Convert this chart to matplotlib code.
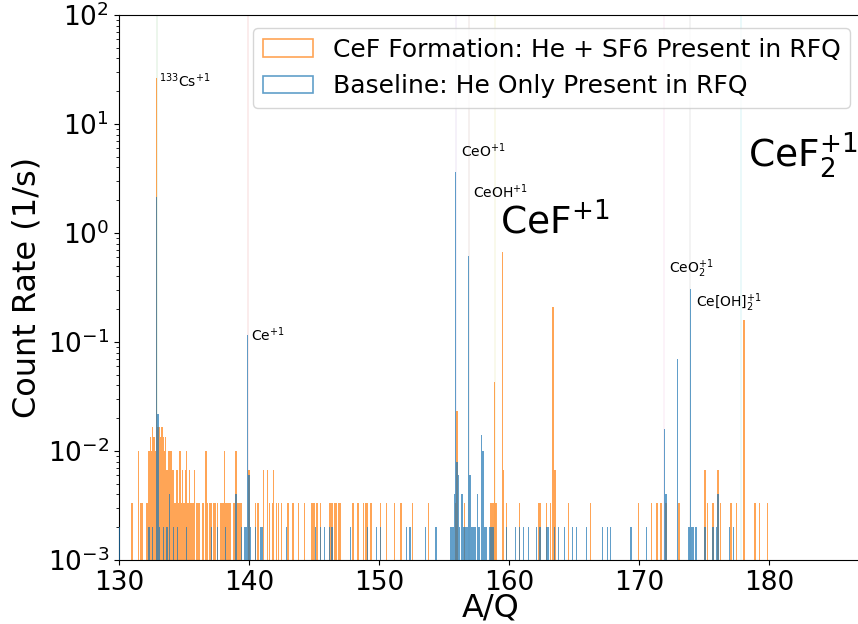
import matplotlib
matplotlib.use("Agg")
import matplotlib.pyplot as plt
from matplotlib.patches import Patch

# ---- data: bin centre (A/Q) and raw counts ----
live_sf6 = 300.0   # s, CeF formation run
live_he = 500.0    # s, baseline run

sf6_mass = [
    131.0, 131.5, 131.7, 131.8, 132.1, 132.2, 132.3, 132.4, 132.5, 132.6,
    132.7, 132.8, 132.9, 133.0, 133.1, 133.2, 133.3, 133.4, 133.5, 133.6,
    133.7, 133.8, 133.9, 134.0, 134.1, 134.2, 134.3, 134.4, 134.5, 134.6,
    134.7, 134.8, 134.9, 135.0, 135.1, 135.2, 135.3, 135.4, 135.5, 135.6,
    135.7, 135.8, 136.0, 136.1, 136.2, 136.4, 136.5, 136.7, 136.8, 137.0,
    137.1, 137.3, 137.4, 137.6, 137.8, 137.9, 138.0, 138.1, 138.2, 138.3,
    138.4, 138.5, 138.6, 138.8, 138.9, 139.0, 139.1, 139.2, 139.3, 139.4,
    140.0, 140.5, 140.7, 141.1, 141.4, 141.6, 141.8, 141.9, 142.1, 142.3,
    142.5, 143.0, 143.4, 143.8, 144.3, 144.8, 144.9, 145.0, 145.2, 145.3,
    145.5, 146.2, 146.3, 146.4, 146.6, 146.7, 146.9, 147.0, 148.0, 148.4,
    148.8, 149.0, 149.1, 149.4, 150.1, 150.6, 151.2, 151.7, 152.6, 153.8,
    155.9, 156.0, 156.6, 158.6, 158.7, 158.8, 158.9, 159.0, 159.5, 159.6,
    159.8, 160.8, 162.3, 162.4, 162.9, 163.2, 163.4, 163.5, 163.6, 164.6,
    166.3, 170.0, 171.0, 171.4, 171.7, 172.1, 173.1, 175.1, 175.3, 175.7,
    176.1, 176.3, 177.1, 177.5, 178.1, 178.9, 179.0, 179.3, 179.9,
]
sf6_counts = [
    1, 3, 1, 1, 1, 1, 3, 4, 3, 5,
    4, 3, 7860, 5, 5, 4, 5, 4, 3, 4,
    2, 3, 3, 3, 2, 2, 1, 2, 2, 1,
    3, 1, 2, 1, 2, 3, 1, 2, 1, 1,
    1, 2, 1, 1, 1, 1, 1, 3, 1, 1,
    1, 1, 1, 1, 1, 1, 1, 3, 1, 1,
    1, 1, 1, 1, 1, 3, 1, 1, 1, 1,
    2, 1, 1, 2, 2, 1, 1, 2, 1, 1,
    1, 1, 1, 1, 1, 1, 1, 1, 1, 1,
    1, 1, 1, 1, 1, 1, 1, 1, 1, 1,
    1, 1, 1, 1, 1, 1, 1, 1, 1, 1,
    1, 7, 1, 1, 1, 1, 13, 1, 202, 2,
    1, 1, 1, 1, 1, 1, 63, 2, 2, 1,
    1, 1, 1, 1, 1, 1, 1, 2, 1, 1,
    2, 1, 1, 1, 48, 1, 1, 1, 1,
]

he_mass = [
    130.0, 132.3, 132.6, 132.9, 133.0, 133.1, 133.4, 133.7, 133.9, 134.2,
    134.5, 135.2, 137.1, 137.6, 138.2, 139.0, 139.4, 139.7, 139.8, 139.9,
    140.0, 140.1, 140.5, 140.9, 141.0, 142.9, 145.1, 145.5, 145.8, 146.2,
    146.4, 147.8, 149.1, 149.8, 150.1, 152.1, 152.4, 153.6, 154.4,
    155.5, 155.6, 155.7, 155.8, 155.9, 156.0, 156.1, 156.2, 156.4, 156.5,
    156.6, 156.7, 156.8, 156.9, 157.0, 157.1, 157.2, 157.3, 157.4, 157.6,
    157.7, 157.9, 158.0, 158.1, 158.2, 158.3, 158.5, 158.6, 158.7, 158.8,
    159.8, 160.5, 160.8, 161.1, 161.5, 162.1, 162.4, 162.9, 163.0, 163.5,
    163.8, 164.3, 164.9, 165.2, 166.0, 167.2, 167.6, 167.8, 169.4, 170.6,
    172.0, 172.1, 173.0, 173.8, 173.9, 174.0, 174.1, 174.2, 174.4, 175.1,
    175.7, 176.0, 176.1, 177.0, 177.3,
]
he_counts = [
    1, 1, 1, 1075, 11, 1, 1, 1, 2, 1,
    1, 1, 1, 1, 1, 2, 1, 1, 1, 58,
    3, 1, 1, 1, 1, 1, 1, 1, 1, 1,
    1, 1, 1, 1, 1, 1, 1, 1, 1,
    1, 1, 1, 2, 1825, 4, 3, 1, 2, 1,
    1, 1, 1, 305, 3, 1, 1, 1, 1, 2,
    1, 7, 5, 1, 1, 1, 1, 1, 1, 1,
    1, 1, 1, 1, 1, 1, 1, 1, 1, 1,
    1, 1, 1, 1, 1, 1, 1, 1, 1, 1,
    8, 2, 35, 1, 1, 152, 1, 1, 1, 1,
    1, 1, 2, 1, 1,
]

sf6_rate = [c / live_sf6 for c in sf6_counts]
he_rate = [c / live_he for c in he_counts]

species_mass = [132.905, 139.905, 155.9, 156.9, 171.9, 173.9, 158.9, 177.9]
species_color = ['C2', 'C3', 'C4', 'C5', 'C6', 'C7', 'C8', 'C9']

labels_small = [
    (r'$^{133}$Cs$^{+1}$', 133.1, 22.0),
    (r'Ce$^{+1}$', 140.15, 0.102),
    (r'CeO$^{+1}$', 156.3, 5.0),
    (r'CeOH$^{+1}$', 157.25, 2.1),
    (r'CeO$_2^{+1}$', 172.3, 0.43),
    (r'Ce[OH]$_2^{+1}$', 174.4, 0.21),
]
labels_big = [
    (r'CeF$^{+1}$', 159.3, 1.0),
    (r'CeF$_2^{+1}$', 178.4, 4.0),
]

# ---- figure ----
fig = plt.figure(figsize=(8.58, 6.24), dpi=100)
W, H = 858.0, 624.0
left, right, top, bottom = 119, 863, 15, 560
ax = fig.add_axes([left / W, 1 - bottom / H, (right - left) / W, (bottom - top) / H])

for m, c in zip(species_mass, species_color):
    ax.axvline(m, color=c, alpha=0.1, lw=1.2, zorder=0)

ax.bar(sf6_mass, sf6_rate, width=0.1, bottom=1e-5, color='C1', alpha=0.7,
       linewidth=0, zorder=2)
ax.bar(he_mass, he_rate, width=0.1, bottom=1e-5, color='C0', alpha=0.7,
       linewidth=0, zorder=3)

ax.set_yscale('log')
ax.set_ylim(1e-3, 1e2)
ax.set_xlim(130, 187.25)
ax.set_xticks([130, 140, 150, 160, 170, 180])
ax.tick_params(axis='both', which='major', labelsize=19)
ax.set_xlabel('A/Q', fontsize=23, labelpad=-2)
ax.set_ylabel('Count Rate (1/s)', fontsize=23)

for txt, x, y in labels_small:
    ax.text(x, y, txt, fontsize=10)
for txt, x, y in labels_big:
    ax.text(x, y, txt, fontsize=27)

handles = [
    Patch(facecolor='white', edgecolor='C1', alpha=0.7, lw=1.2),
    Patch(facecolor='white', edgecolor='C0', alpha=0.7, lw=1.2),
]
ax.legend(handles, ['CeF Formation: He + SF6 Present in RFQ',
                    'Baseline: He Only Present in RFQ'],
          loc='upper right', fontsize=18)

fig.savefig('out.png', dpi=100)
